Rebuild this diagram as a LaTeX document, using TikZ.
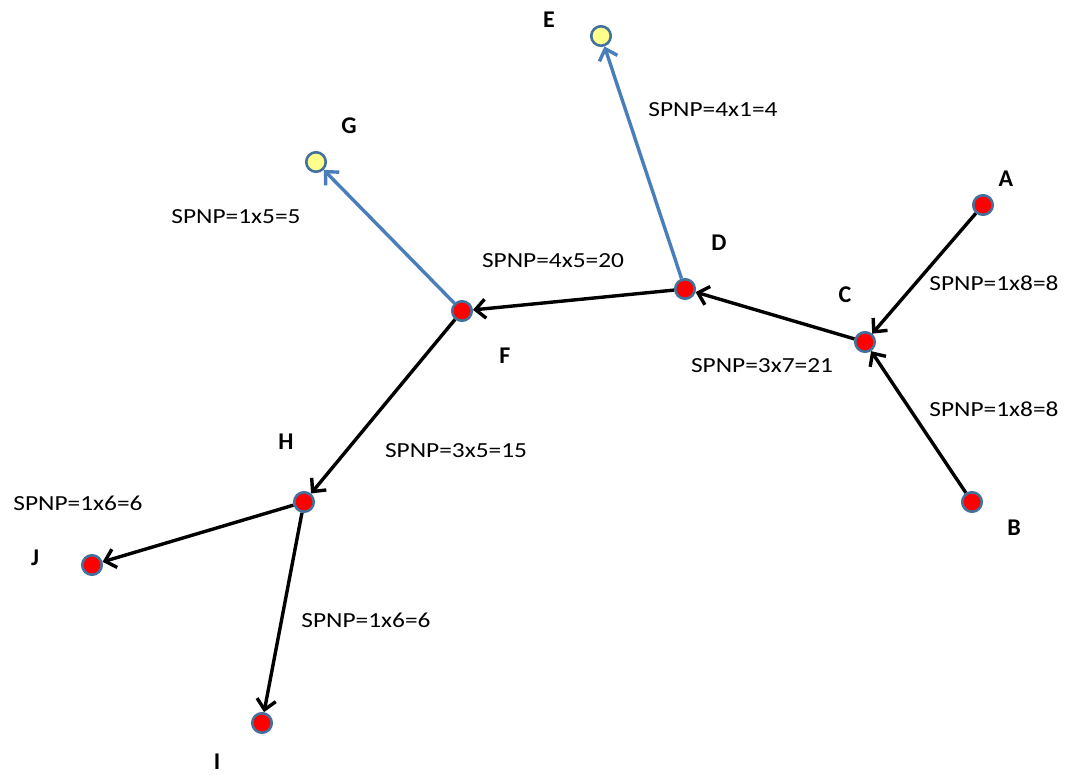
\documentclass[tikz,border=0pt]{standalone}
\usepackage{fontspec}
\setmainfont{Carlito}
\newfontfamily\labfont[FakeStretch=1.18]{Carlito}
\usetikzlibrary{arrows.meta}
\definecolor{nodeborder}{HTML}{41719C}
\definecolor{bluelink}{HTML}{4A7EBB}
\definecolor{lightyel}{HTML}{FFFF8C}
\tikzset{
  rednode/.style={circle, fill=red, draw=nodeborder, line width=2.6pt, minimum size=19.5pt, inner sep=0pt},
  yelnode/.style={circle, fill=lightyel, draw=nodeborder, line width=2.6pt, minimum size=19.5pt, inner sep=0pt},
  nodename/.style={font=\fontsize{24}{26}\selectfont\bfseries, inner sep=0pt},
  spnp/.style={font=\labfont\fontsize{21.5}{24}\selectfont, inner sep=0pt},
  blk/.style={draw=black, line width=3.4pt, -{Straight Barb[length=10pt,width=19pt]}},
  blu/.style={draw=bluelink, line width=3.4pt, -{Straight Barb[length=10pt,width=19pt]}}
}
\begin{document}
\begin{tikzpicture}[x=1pt,y=-1pt]
\useasboundingbox (0,0) rectangle (1076,774);
% nodes
\node[rednode] (A) at (983,205) {};
\node[rednode] (B) at (972,502) {};
\node[rednode] (C) at (865,342) {};
\node[rednode] (D) at (685,289) {};
\node[yelnode] (E) at (601,36) {};
\node[rednode] (F) at (462,311) {};
\node[yelnode] (G) at (316,162) {};
\node[rednode] (H) at (304,502) {};
\node[rednode] (I) at (262,723) {};
\node[rednode] (J) at (92,565) {};
% edges
\draw[blk] (A) -- (C);
\draw[blk] (B) -- (C);
\draw[blk] (C) -- (D);
\draw[blk] (D) -- (F);
\draw[blu] (D) -- (E);
\draw[blu] (F) -- (G);
\draw[blk] (F) -- (H);
\draw[blk] (H) -- (J);
\draw[blk] (H) -- (I);
% node names
\node[nodename] (lA) at (1006,179) {A};
\node[nodename] (lB) at (1014,528) {B};
\node[nodename] (lC) at (845,295) {C};
\node[nodename] (lD) at (719,243) {D};
\node[nodename] (lE) at (549,20) {E};
\node[nodename] (lF) at (505,356) {F};
\node[nodename] (lG) at (349,126) {G};
\node[nodename] (lH) at (286,442) {H};
\node[nodename] (lI) at (217,762) {I};
\node[nodename] (lJ) at (35,558) {J};
% edge labels
\node[spnp] (sDE) at (713,110) {SPNP=4x1=4};
\node[spnp] (sAC) at (994,283) {SPNP=1x8=8};
\node[spnp] (sFG) at (236,217) {SPNP=1x5=5};
\node[spnp] (sDF) at (553,261) {SPNP=4x5=20};
\node[spnp] (sCD) at (762,366) {SPNP=3x7=21};
\node[spnp] (sBC) at (994,409) {SPNP=1x8=8};
\node[spnp] (sFH) at (456,451) {SPNP=3x5=15};
\node[spnp] (sHJ) at (78,503) {SPNP=1x6=6};
\node[spnp] (sHI) at (366,620) {SPNP=1x6=6};
\end{tikzpicture}
\end{document}
